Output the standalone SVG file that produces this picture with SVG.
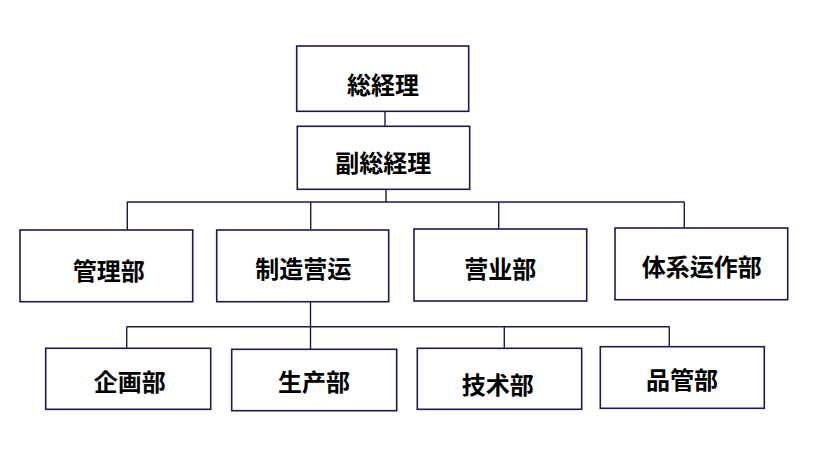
<svg xmlns="http://www.w3.org/2000/svg" width="825" height="451" viewBox="0 0 825 451">
<style>
.box{fill:#fff;stroke:#1a1a4e;stroke-width:1.6}
.ln{fill:none;stroke:#1a1a4e;stroke-width:1.4}
.t{font-family:"Noto Sans CJK JP","Noto Sans CJK SC",sans-serif;font-size:24px;font-weight:bold;fill:#000;text-anchor:middle;dominant-baseline:central}
</style>
<rect width="825" height="451" fill="#fff"/>
<g id="connectors">
<path class="ln" d="M385 111.3V126.3M386 189.3V202M127 202H684.5M127.3 202V230M310.7 202V230M498.7 202V229M684.3 202V228M310.5 301.7V349.3M126.7 326.7H669.5M126.7 326.7V348.3M504.3 326.7V348.3M669.3 326.7V347"/>
</g>
<g id="n1"><rect class="box" x="296.7" y="46" width="172" height="65.3"/><text class="t" x="383" y="83">総経理</text></g>
<g id="n2"><rect class="box" x="297.3" y="126.3" width="172.4" height="63"/><text class="t" x="383.3" y="161.2">副総経理</text></g>
<g id="n3"><rect class="box" x="20" y="230" width="172.7" height="71.7"/><text class="t" x="108.7" y="269.2">管理部</text></g>
<g id="n4"><rect class="box" x="216.7" y="230" width="172" height="71.7"/><text class="t" x="303.3" y="267.3">制造营运</text></g>
<g id="n5"><rect class="box" x="414" y="229" width="172.7" height="72"/><text class="t" x="500.3" y="267">营业部</text></g>
<g id="n6"><rect class="box" x="615" y="228" width="172.7" height="71.7"/><text class="t" x="701.7" y="265.3">体系运作部</text></g>
<g id="n7"><rect class="box" x="45.7" y="348.3" width="165" height="61"/><text class="t" x="129.7" y="380.8">企画部</text></g>
<g id="n8"><rect class="box" x="231.7" y="349.3" width="165" height="61.4"/><text class="t" x="314" y="380.5">生产部</text></g>
<g id="n9"><rect class="box" x="417.3" y="348.3" width="164.4" height="61"/><text class="t" x="497.7" y="383.3">技术部</text></g>
<g id="n10"><rect class="box" x="600.3" y="346.7" width="164" height="61.6"/><text class="t" x="682" y="378.2">品管部</text></g>
</svg>
